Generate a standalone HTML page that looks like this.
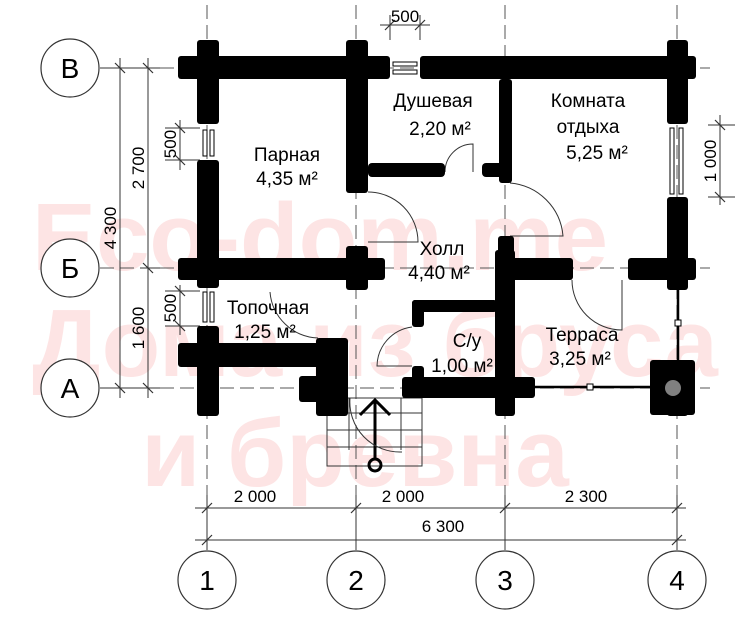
<!DOCTYPE html>
<html><head><meta charset="utf-8"><style>
html,body{margin:0;padding:0;background:#fff;}
svg{display:block;font-family:"Liberation Sans",sans-serif;}
</style></head><body>
<svg width="750" height="631" viewBox="0 0 750 631" xmlns="http://www.w3.org/2000/svg">
<!-- watermark -->
<g fill="#fde4e4" font-weight="bold" font-size="96" text-anchor="middle">
<text x="320" y="270">Eco-dom.me</text>
<text x="375" y="376">Дома из бруса</text>
<text x="355" y="486">и бревна</text>
</g>
<!-- axis dashed lines -->
<g stroke="#555" stroke-width="1" stroke-dasharray="14,6" fill="none">
<line x1="207" y1="5" x2="207" y2="550"/>
<line x1="356" y1="5" x2="356" y2="550"/>
<line x1="505" y1="5" x2="505" y2="550"/>
<line x1="677" y1="5" x2="677" y2="550"/>
<line x1="100" y1="68" x2="710" y2="68"/>
<line x1="100" y1="268" x2="710" y2="268"/>
<line x1="100" y1="388" x2="710" y2="388"/>
</g>
<!-- dimension lines -->
<g stroke="#333" stroke-width="1" fill="none">
<line x1="195" y1="508" x2="686" y2="508"/>
<line x1="195" y1="540" x2="686" y2="540"/>
<line x1="207" y1="495" x2="207" y2="550"/>
<line x1="356" y1="495" x2="356" y2="550"/>
<line x1="505" y1="495" x2="505" y2="550"/>
<line x1="677" y1="495" x2="677" y2="550"/>
<line x1="120" y1="58" x2="120" y2="398"/>
<line x1="148" y1="58" x2="148" y2="398"/>
<line x1="100" y1="68" x2="160" y2="68"/>
<line x1="100" y1="388" x2="160" y2="388"/>
<line x1="140" y1="268" x2="160" y2="268"/>
<line x1="180" y1="120" x2="180" y2="170"/>
<line x1="165" y1="128" x2="200" y2="128"/>
<line x1="165" y1="160" x2="200" y2="160"/>
<line x1="180" y1="285" x2="180" y2="335"/>
<line x1="165" y1="291" x2="200" y2="291"/>
<line x1="165" y1="326" x2="200" y2="326"/>
<line x1="380" y1="25" x2="430" y2="25"/>
<line x1="390" y1="15" x2="390" y2="40"/>
<line x1="420" y1="15" x2="420" y2="40"/>
<line x1="720" y1="115" x2="720" y2="205"/>
<line x1="708" y1="125" x2="735" y2="125"/>
<line x1="708" y1="197" x2="735" y2="197"/>
<g stroke-width="1.2">
<line x1="202" y1="513" x2="212" y2="503"/><line x1="351" y1="513" x2="361" y2="503"/>
<line x1="500" y1="513" x2="510" y2="503"/><line x1="672" y1="513" x2="682" y2="503"/>
<line x1="202" y1="545" x2="212" y2="535"/><line x1="672" y1="545" x2="682" y2="535"/>
<line x1="115" y1="63" x2="125" y2="73"/><line x1="143" y1="63" x2="153" y2="73"/>
<line x1="143" y1="263" x2="153" y2="273"/>
<line x1="115" y1="383" x2="125" y2="393"/><line x1="143" y1="383" x2="153" y2="393"/>
<line x1="175" y1="123" x2="185" y2="133"/><line x1="175" y1="155" x2="185" y2="165"/>
<line x1="175" y1="286" x2="185" y2="296"/><line x1="175" y1="321" x2="185" y2="331"/>
<line x1="385" y1="30" x2="395" y2="20"/><line x1="415" y1="30" x2="425" y2="20"/>
<line x1="715" y1="120" x2="725" y2="130"/><line x1="715" y1="192" x2="725" y2="202"/>
</g>
</g>
<!-- dimension texts -->
<g fill="#000" font-size="17" text-anchor="middle">
<text x="255" y="502">2 000</text>
<text x="403" y="502">2 000</text>
<text x="586" y="502">2 300</text>
<text x="443" y="532">6 300</text>
<text x="405" y="22">500</text>
<text transform="translate(116,228) rotate(-90)">4 300</text>
<text transform="translate(144,168) rotate(-90)">2 700</text>
<text transform="translate(144,328) rotate(-90)">1 600</text>
<text transform="translate(176,144) rotate(-90)">500</text>
<text transform="translate(176,308) rotate(-90)">500</text>
<text transform="translate(716,161) rotate(-90)">1 000</text>
</g>
<!-- axis circles -->
<g stroke="#333" stroke-width="1.2" fill="#fff">
<circle cx="207" cy="580" r="29"/><circle cx="356" cy="580" r="29"/>
<circle cx="505" cy="580" r="29"/><circle cx="677" cy="580" r="29"/>
<circle cx="70" cy="68" r="29"/><circle cx="70" cy="268" r="29"/><circle cx="70" cy="388" r="29"/>
</g>
<g fill="#000" font-size="28" text-anchor="middle">
<text x="207" y="590">1</text><text x="356" y="590">2</text>
<text x="505" y="590">3</text><text x="677" y="590">4</text>
<text x="70" y="78">В</text><text x="70" y="278">Б</text><text x="70" y="398">А</text>
</g>
<!-- stairs -->
<g stroke="#333" stroke-width="1" fill="none">
<rect x="327" y="398" width="95" height="68"/>
<line x1="327" y1="413" x2="422" y2="413"/>
<line x1="327" y1="430" x2="422" y2="430"/>
<line x1="327" y1="447" x2="422" y2="447"/>
<line x1="349" y1="398" x2="349" y2="450"/>
<line x1="401" y1="398" x2="401" y2="450"/>
</g>
<g stroke="#000" stroke-width="3" fill="none">
<line x1="375" y1="400" x2="375" y2="460"/>
<polyline points="360,415 375,400 390,415"/>
<circle cx="375" cy="465" r="6"/>
</g>
<!-- doors -->
<g stroke="#333" stroke-width="1" fill="none">
<path d="M368 192 A50 50 0 0 1 418 242 L368 242"/>
<path d="M445 172 A28 28 0 0 1 473 144 L473 172"/>
<path d="M510 183 A58 58 0 0 1 563 236 L510 236"/>
<path d="M270 292 A50 50 0 0 0 318 338"/>
<path d="M412 327 A40 40 0 0 0 377 366 L412 366"/>
<path d="M572 280 A50 50 0 0 0 622 330 L622 280"/>
<path d="M350 398 A50 50 0 0 0 402 452"/>
</g>
<!-- walls -->
<g fill="#000">
<rect x="178" y="56" width="212" height="23" rx="3"/>
<rect x="420" y="56" width="276" height="23" rx="3"/>
<rect x="197" y="40" width="22" height="84" rx="3"/>
<rect x="197" y="160" width="22" height="128" rx="3"/>
<rect x="197" y="326" width="22" height="90" rx="3"/>
<rect x="346" y="40" width="22" height="153" rx="3"/>
<rect x="368" y="163" width="77" height="14" rx="4"/>
<rect x="482" y="163" width="23" height="14" rx="4"/>
<rect x="499" y="79" width="13" height="104" rx="3"/>
<rect x="667" y="40" width="21" height="84" rx="3"/>
<rect x="667" y="197" width="21" height="93" rx="3"/>
<rect x="178" y="258" width="207" height="22" rx="3"/>
<rect x="346" y="246" width="22" height="44" rx="3"/>
<rect x="495" y="258" width="78" height="22" rx="3"/>
<rect x="498" y="236" width="16" height="30" rx="3"/>
<rect x="628" y="258" width="68" height="22" rx="3"/>
<rect x="495" y="250" width="20" height="166" rx="3"/>
<rect x="412" y="300" width="85" height="12" rx="3"/>
<rect x="412" y="300" width="12" height="27" rx="3"/>
<rect x="412" y="366" width="12" height="14" rx="3"/>
<rect x="402" y="377" width="133" height="21" rx="3"/>
<rect x="178" y="343" width="170" height="24" rx="3"/>
<rect x="316" y="338" width="32" height="78" rx="3"/>
<rect x="299" y="376" width="49" height="26" rx="3"/>
<rect x="650" y="360" width="45" height="55" rx="3"/>
<rect x="667" y="360" width="21" height="56" rx="3"/>
</g>
<circle cx="673" cy="388" r="8" fill="#fff" opacity="0.5"/>
<g stroke="#000" stroke-width="2.5">
<line x1="535" y1="387" x2="650" y2="387"/>
<line x1="678" y1="290" x2="678" y2="360"/>
</g>
<rect x="587" y="384" width="6" height="6" fill="#fff" stroke="#000"/>
<rect x="675" y="320" width="6" height="6" fill="#fff" stroke="#000"/>
<!-- windows -->
<g fill="#fff" stroke="#000" stroke-width="1">
<rect x="393" y="62" width="24" height="4"/><rect x="393" y="70" width="24" height="4"/>
<rect x="203" y="130" width="4" height="26"/><rect x="210" y="130" width="4" height="26"/>
<rect x="203" y="292" width="4" height="30"/><rect x="210" y="292" width="4" height="30"/>
<rect x="670" y="128" width="4" height="66"/><rect x="679" y="128" width="4" height="66"/>
</g>
<!-- room labels -->
<g fill="#000" font-size="19" text-anchor="middle">
<text x="287" y="161">Парная</text><text x="287" y="185">4,35 м²</text>
<text x="433" y="107">Душевая</text><text x="440" y="135">2,20 м²</text>
<text x="588" y="107">Комната</text><text x="588" y="133">отдыха</text><text x="597" y="159">5,25 м²</text>
<text x="442" y="255">Холл</text><text x="439" y="279">4,40 м²</text>
<text x="268" y="314">Топочная</text><text x="265" y="338">1,25 м²</text>
<text x="467" y="347">С/у</text><text x="462" y="372">1,00 м²</text>
<text x="582" y="341">Терраса</text><text x="580" y="365">3,25 м²</text>
</g>
</svg>
</body></html>
